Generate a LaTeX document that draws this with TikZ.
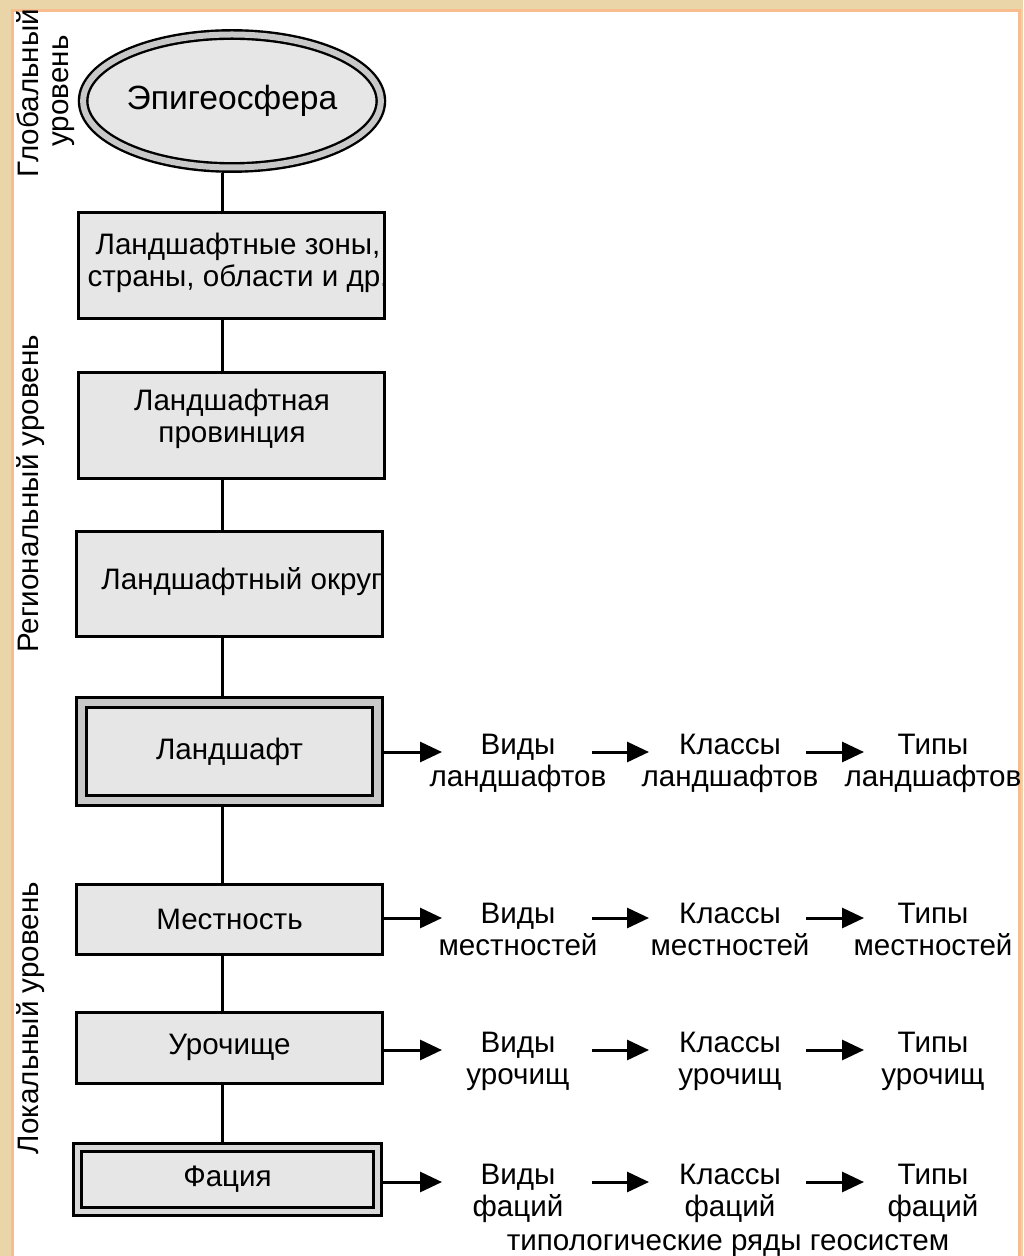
\documentclass[tikz,border=0pt]{standalone}
\usepackage{fontspec}
\setmainfont{Liberation Sans}
\usetikzlibrary{arrows.meta,shapes.geometric}
\definecolor{parchment}{HTML}{E9D5A8}
\definecolor{frameorange}{HTML}{F9BC8E}
\definecolor{boxgray}{HTML}{E6E6E6}
\definecolor{bandgray}{HTML}{C8C8C8}
\definecolor{lightband}{HTML}{D9D9D9}
\tikzset{
  unit/.style={rectangle,draw,line width=1.5pt,fill=boxgray,inner sep=0pt,
    minimum width=153pt,align=center,font=\fontsize{14.8}{16}\selectfont},
  keyunit/.style={unit,double=#1,double distance=3.5pt,outer sep=3.25pt},
  keyunit/.default=bandgray,
  rank/.style={align=center,font=\fontsize{14.8}{16}\selectfont},
  link/.style={line width=1.2pt},
  flow/.style={line width=1.5pt,-{Triangle[length=11pt,width=10pt]}},
  side/.style={rotate=90,anchor=base,font=\fontsize{14.8}{16}\selectfont}
}

\begin{document}
\begin{tikzpicture}[x=0.5pt,y=-0.5pt]
  \useasboundingbox (0,0) rectangle (1023,1256);

  % -- parchment edge and white sheet --
  \fill[parchment] (0,0) rectangle (1023,1256);
  \draw[frameorange,line width=1.5pt,fill=white] (12.5,10.5) rectangle (1019.5,1290);

  % -- vertical spine of the hierarchy --
  \def\xspine{222.5}
  \coordinate (spine) at (\xspine,0);

  % -- levels of the hierarchy --
  \node[ellipse,draw,line width=1.2pt,double=bandgray,double distance=3pt,outer sep=2.7pt,
        fill=boxgray,inner sep=0pt,minimum width=144.5pt,minimum height=66.5pt,
        font=\fontsize{16.8}{19}\selectfont] (epi) at (232,101) {Эпигеосфера};
  \node[unit,minimum height=53pt] (zones) at (231.5,266) {};
  \node[rank] (zones-t) at (238,263) {Ландшафтные зоны,\\страны, области и др.};
  \node[unit,minimum height=52.5pt] (prov) at (231.5,425.5) {};
  \node[rank] (prov-t) at (232,419) {Ландшафтная\\провинция};
  \node[unit,minimum height=52.5pt] (okrug) at (229.5,583.5) {};
  \node[rank,anchor=west,inner sep=0pt] (okrug-t) at (101,582) {Ландшафтный округ};
  \node[keyunit,minimum width=148pt,minimum height=49.25pt] (land) at (229.5,751.7) {Ландшафт};
  \node[unit,minimum height=35pt] (mest) at (229.5,919) {Местность};
  \node[unit,minimum height=35.5pt] (uroch) at (229.5,1047.5) {Урочище};
  \node[keyunit=lightband,double distance=2.5pt,outer sep=2.75pt,
        minimum width=150pt,minimum height=32.3pt] (fac) at (227.5,1179.5) {Фация};

  % -- links down the spine --
  \foreach \a/\b in {epi/zones,zones/prov,prov/okrug,okrug/land,land/mest,mest/uroch,uroch/fac}
    \draw[link] (spine |- \a.south) -- (spine |- \b.north);

  % -- typological series to the right --
  \foreach \nm/\y/\word in {land/752/ландшафтов,mest/918/местностей,uroch/1050/урочищ,fac/1182/фаций}{
    \coordinate (\nm-a) at (442,\y);
    \coordinate (\nm-b0) at (592,\y);
    \coordinate (\nm-b1) at (649,\y);
    \coordinate (\nm-c0) at (806,\y);
    \coordinate (\nm-c1) at (864,\y);
    \node[rank] (\nm-vid) at (518,\y+11) {Виды\\\word};
    \node[rank] (\nm-cls) at (730,\y+11) {Классы\\\word};
    \node[rank] (\nm-typ) at (933,\y+11) {Типы\\\word};
    \draw[flow] (\nm-a -| \nm.east) -- (\nm-a);
    \draw[flow] (\nm-b0) -- (\nm-b1);
    \draw[flow] (\nm-c0) -- (\nm-c1);
  }
  \node[rank] (series) at (728,1246) {типологические ряды геосистем};

  % -- level names on the left --
  \node[side] (global1) at (39,93) {Глобальный};
  \node[side] (global2) at (68,91) {уровень};
  \node[side] (regional) at (38,494) {Региональный уровень};
  \node[side] (local) at (38,1018) {Локальный уровень};

\end{tikzpicture}
\end{document}
